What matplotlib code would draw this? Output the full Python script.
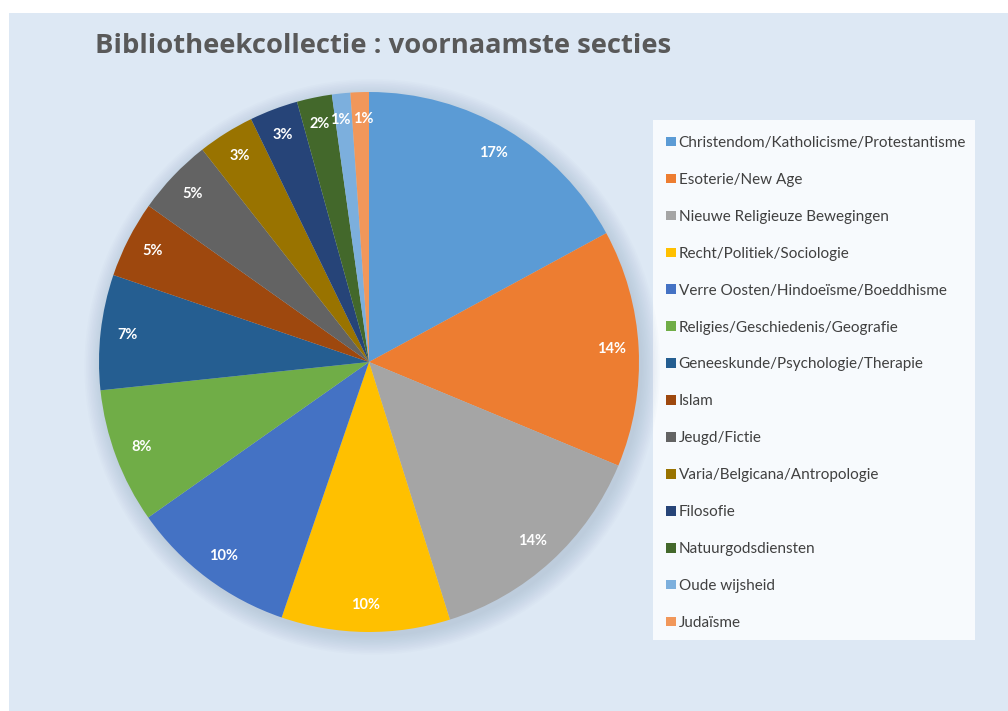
import matplotlib
matplotlib.use("Agg")
import matplotlib.pyplot as plt
from matplotlib.patches import Rectangle, Circle, Patch

title = "Bibliotheekcollectie : voornaamste secties"
categories = [
    "Christendom/Katholicisme/Protestantisme",
    "Esoterie/New Age",
    "Nieuwe Religieuze Bewegingen",
    "Recht/Politiek/Sociologie",
    "Verre Oosten/Hindoeïsme/Boeddhisme",
    "Religies/Geschiedenis/Geografie",
    "Geneeskunde/Psychologie/Therapie",
    "Islam",
    "Jeugd/Fictie",
    "Varia/Belgicana/Antropologie",
    "Filosofie",
    "Natuurgodsdiensten",
    "Oude wijsheid",
    "Judaïsme",
]
values = [17.1, 14.2, 13.9, 10.1, 10.0, 8.1, 6.9, 4.6, 4.6, 3.4, 2.9, 2.1, 1.1, 1.1]
colors = ["#5B9BD5", "#ED7D31", "#A5A5A5", "#FFC000", "#4472C4", "#70AD47",
          "#255E91", "#9E480E", "#636363", "#997300", "#264478", "#43682B",
          "#7CAFDD", "#F1975A"]

W, H = 1008, 711
fig = plt.figure(figsize=(W / 100, H / 100), dpi=100)
fig.patch.set_facecolor("white")
fig.patches.append(Rectangle((9 / W, 0), 1 - 9 / W, 1 - 13 / H, transform=fig.transFigure,
                             facecolor="#DDE8F4", edgecolor="none", zorder=-5))

# legend box
lx0, ly0, lx1, ly1 = 653, 120, 975, 640
fig.patches.append(Rectangle((lx0 / W, 1 - ly1 / H), (lx1 - lx0) / W, (ly1 - ly0) / H,
                             transform=fig.transFigure, facecolor="#F7FAFD",
                             edgecolor="none", zorder=-4))

fig.text(95 / W, 1 - 46 / H, title, fontsize=19.7, fontweight="bold", color="#595959",
         family="Open Sans", va="center", ha="left")

cx, cy, r = 369, 362, 270
ax = fig.add_axes([(cx - r) / W, (H - cy - r) / H, 2 * r / W, 2 * r / H])
ax.set_zorder(2)
ax.patch.set_visible(False)
ax.set_xlim(-1, 1)
ax.set_ylim(-1, 1)
ax.axis("off")

# soft shadow
for k in range(12):
    ax.add_patch(Circle((0.012, -0.018), 1.0 + 0.006 * k, facecolor="#7088A8",
                        alpha=0.025, edgecolor="none", zorder=0, clip_on=False))

wedges, texts, autotexts = ax.pie(
    values, colors=colors, startangle=90, counterclock=False, radius=1.0,
    autopct="%.0f%%", pctdistance=0.9,
    textprops=dict(color="white", fontsize=10.5, fontweight="bold", family="Lato"),
    wedgeprops=dict(edgecolor="none", zorder=2), frame=False)
ax.set_xlim(-1, 1)
ax.set_ylim(-1, 1)

# nudge the two tiny-slice labels apart so they sit side by side
px = 2.0 / (2 * r)
for t, dx in ((autotexts[-2], -4 * px), (autotexts[-1], 3 * px)):
    x, y = t.get_position()
    t.set_position((x + dx, y))

handles = [Patch(facecolor=c, edgecolor="none") for c in colors]
fig.legend(handles, categories, loc="upper left",
           bbox_to_anchor=(666 / W, 1 - 136 / H), frameon=False,
           prop=dict(family="Lato", size=11), labelcolor="#404040",
           handlelength=0.68, handleheight=0.6, handletextpad=0.15,
           labelspacing=1.5, borderpad=0, borderaxespad=0)

fig.savefig("out.png", dpi=100)
